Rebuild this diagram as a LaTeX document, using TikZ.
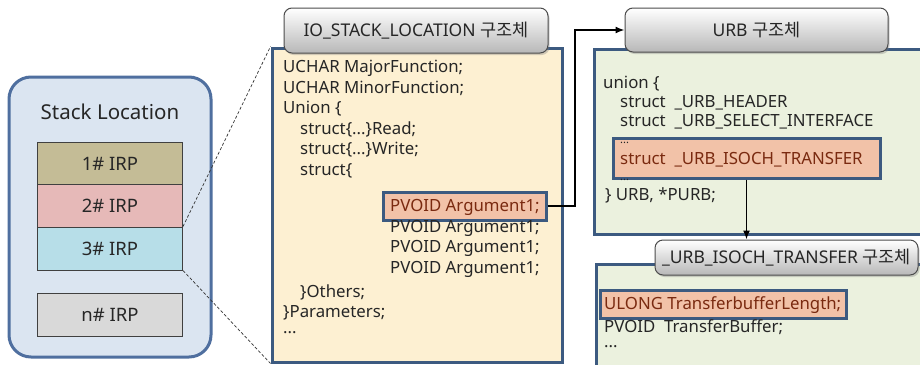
\documentclass[tikz,border=0pt]{standalone}
\usepackage{fontspec}
\setmainfont{Noto Sans}
\newfontfamily\kr{Noto Sans CJK KR}
\usetikzlibrary{arrows.meta,shadows}
\definecolor{panelfill}{HTML}{DBE5F1}
\definecolor{panelborder}{HTML}{4F6F9F}
\definecolor{irpa}{HTML}{C4BC96}
\definecolor{irpb}{HTML}{E6B9B8}
\definecolor{irpc}{HTML}{B7DEE8}
\definecolor{irpn}{HTML}{D9D9D9}
\definecolor{iofill}{HTML}{FDF0D2}
\definecolor{urbfill}{HTML}{EBF1DE}
\definecolor{boxborder}{HTML}{3C5A80}
\definecolor{hlfill}{HTML}{F2C2A8}
\definecolor{hltext}{HTML}{7A2A10}
\definecolor{txt}{HTML}{262626}
\tikzset{
  irpbox/.style={draw=black!75, line width=1pt, minimum width=145pt, minimum height=43pt, inner sep=0pt, font=\fontsize{18.5}{20}\selectfont, text=txt},
  bigbox/.style={draw=boxborder, line width=3pt},
  header/.style={draw=black!70, line width=1pt, rounded corners=8pt, top color=white, bottom color=black!28, inner sep=0pt, font=\fontsize{17.5}{19}\selectfont, text=txt, drop shadow={shadow xshift=1.5pt, shadow yshift=-2pt, opacity=0.35}},
  code/.style={anchor=west, inner sep=0pt, font=\fontsize{16.8}{18}\selectfont, text=txt},
  hlbox/.style={draw=boxborder, line width=3pt, fill=hlfill, inner sep=0pt},
  hlcode/.style={code, text=hltext},
  dashline/.style={densely dashed, line width=0.7pt, black!80},
  arrowline/.style={line width=1.4pt, -{Latex[length=9pt,width=7pt]}},
}
\begin{document}
\begin{tikzpicture}[x=1pt,y=-1pt]
\clip (0,0) rectangle (920,364);
\fill[white] (0,0) rectangle (920,364);
% left panel
\node[draw=panelborder, line width=3pt, fill=panelfill, rounded corners=22pt, minimum width=202pt, minimum height=280pt, inner sep=0pt] (panel) at (110,217) {};
\node[inner sep=0pt, font=\fontsize{20.5}{22}\selectfont, text=txt] (sltitle) at (110,112) {Stack Location};
\node[irpbox, fill=irpa] (irp1) at (110,163.5) {1\# IRP};
\node[irpbox, fill=irpb] (irp2) at (110,206) {2\# IRP};
\node[irpbox, fill=irpc] (irp3) at (110,248.5) {3\# IRP};
\node[irpbox, fill=irpn] (irpn) at (110,315) {n\# IRP};
% IO_STACK_LOCATION box
\node[bigbox, fill=iofill, minimum width=290pt, minimum height=314pt, inner sep=0pt] (io) at (417,205) {};
\draw[dashline] (irp3.north east) -- (io.north west);
\draw[dashline] (irp3.south east) -- (io.south west);
\node[header, minimum width=264pt, minimum height=45pt] (iohead) at (416,30.5) {IO\_STACK\_LOCATION {\kr 구조체}};
\node[code] (l1) at (283,68) {UCHAR MajorFunction;};
\node[code] (l2) at (283,88.5) {UCHAR MinorFunction;};
\node[code] (l3) at (283,109) {Union \{};
\node[code] (l4) at (300,129.5) {struct\{...\}Read;};
\node[code] (l5) at (300,150) {struct\{...\}Write;};
\node[code] (l6) at (300,170.5) {struct\{};
\node[hlbox, minimum width=163pt, minimum height=28pt] (hl1) at (464.5,206) {};
\node[hlcode] (l7) at (390,207) {PVOID Argument1;};
\node[code] (l8) at (390,228) {PVOID Argument1;};
\node[code] (l9) at (390,248.5) {PVOID Argument1;};
\node[code] (l10) at (390,269) {PVOID Argument1;};
\node[code] (l11) at (300,292) {\}Others;};
\node[code] (l12) at (283,312.5) {\}Parameters;};
\node[code] (l13) at (283,333) {...};
% URB box
\node[bigbox, fill=urbfill, minimum width=340pt, minimum height=185pt, anchor=north west] (urb) at (593,48) {};
\node[header, minimum width=263pt, minimum height=44pt] (urbhead) at (756.5,30) {URB {\kr 구조체}};
\coordinate (turn) at (575,206);
\draw[arrowline] (hl1.east) -- (turn) |- (urbhead.west);
\node[code] (u1) at (603,84) {union \{};
\node[code] (u2) at (620,103) {struct\ \ \_URB\_HEADER};
\node[code] (u3) at (620,122) {struct\ \ \_URB\_SELECT\_INTERFACE};
\node[hlbox, minimum width=267pt, minimum height=40pt] (hl2) at (746.5,158) {};
\node[code, font=\fontsize{11}{12}\selectfont] (u4) at (620,143) {...};
\node[hlcode] (u5) at (620,160) {struct\ \ \_URB\_ISOCH\_TRANSFER};
\node[code, font=\fontsize{11}{12}\selectfont] (u6) at (620,180) {...};
\node[code] (u7) at (605,195) {\} URB, *PURB;};
% ISOCH box
\node[bigbox, fill=urbfill, minimum width=340pt, minimum height=120pt, anchor=north west] (isoch) at (595,263) {};
\node[header, minimum width=263pt, minimum height=35pt] (isochhead) at (786.5,257.5) {\_URB\_ISOCH\_TRANSFER {\kr 구조체}};
\draw[arrowline] (hl2.south) -- (hl2.south |- isochhead.north);
\node[hlbox, minimum width=246pt, minimum height=28pt] (hl3) at (723,304) {};
\node[hlcode] (i1) at (604,305) {ULONG TransferbufferLength;};
\node[code] (i2) at (604,327) {PVOID\ \ TransferBuffer;};
\node[code] (i3) at (604,347) {...};
\end{tikzpicture}
\end{document}
